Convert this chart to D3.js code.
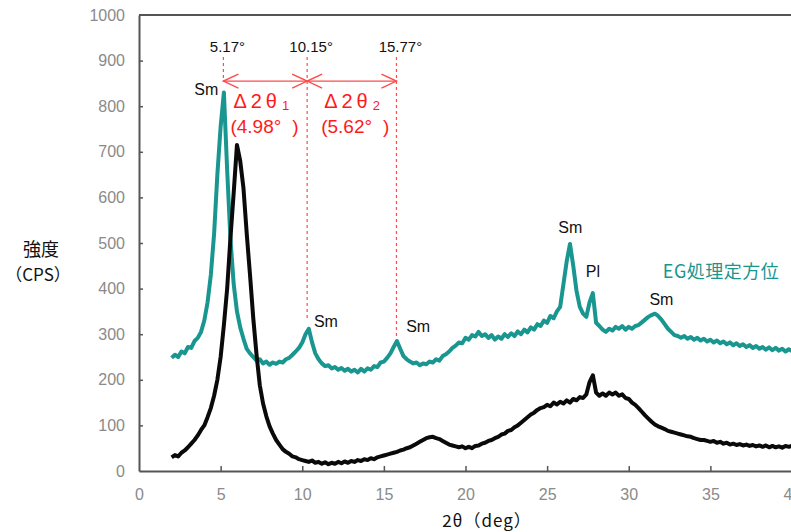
<!DOCTYPE html>
<html><head><meta charset="utf-8">
<script src="https://cdn.jsdelivr.net/npm/d3@7"></script>
<style>
html,body{margin:0;padding:0;background:#fff;overflow:hidden}
svg{display:block}
</style></head>
<body>
<svg id="chart" width="791" height="532"></svg>
<script>
// ---- data ----
const twoTheta = [
 2,2.2,2.4,2.6,2.8, 3,3.2,3.4,3.6,3.8, 4,4.2,4.4,4.6,4.8, 5,5.2,5.4,5.6,5.8,
 6,6.2,6.4,6.6,6.8, 7,7.2,7.4,7.6,7.8, 8,8.2,8.4,8.6,8.8, 9,9.2,9.4,9.6,9.8,
 10,10.2,10.4,10.6,10.8, 11,11.2,11.4,11.6,11.8, 12,12.2,12.4,12.6,12.8, 13,13.2,13.4,13.6,13.8,
 14,14.2,14.4,14.6,14.8, 15,15.2,15.4,15.6,15.8, 16,16.2,16.4,16.6,16.8, 17,17.2,17.4,17.6,17.8,
 18,18.2,18.4,18.6,18.8, 19,19.2,19.4,19.6,19.8, 20,20.2,20.4,20.6,20.8, 21,21.2,21.4,21.6,21.8,
 22,22.2,22.4,22.6,22.8, 23,23.2,23.4,23.6,23.8, 24,24.2,24.4,24.6,24.8, 25,25.2,25.4,25.6,25.8,
 26,26.2,26.4,26.6,26.8, 27,27.2,27.4,27.6,27.8, 28,28.2,28.4,28.6,28.8, 29,29.2,29.4,29.6,29.8,
 30,30.2,30.4,30.6,30.8, 31,31.2,31.4,31.6,31.8, 32,32.2,32.4,32.6,32.8, 33,33.2,33.4,33.6,33.8,
 34,34.2,34.4,34.6,34.8, 35,35.2,35.4,35.6,35.8, 36,36.2,36.4,36.6,36.8, 37,37.2,37.4,37.6,37.8,
 38,38.2,38.4,38.6,38.8, 39,39.2,39.4,39.6,39.8, 40
];
// EG処理定方位 (teal)
const egValues = [
 248,255,250,262,258, 272,270,285,292,305, 330,370,430,520,650, 755,830,660,510,410,
 350,315,290,268,258, 250,242,245,236,240, 233,238,235,240,238, 245,248,255,262,270,
 282,300,312,282,258, 245,236,230,232,225, 228,222,226,220,224, 218,222,216,224,218,
 225,222,230,228,238, 240,248,258,272,285, 268,252,245,240,236, 238,232,236,234,240,
 238,245,242,252,256, 262,270,275,282,280, 292,288,298,295,305, 296,300,292,298,288,
 295,290,300,294,302, 296,306,300,310,304, 315,310,322,318,330, 325,340,335,350,360,
 410,460,498,450,395, 360,345,338,370,390, 325,318,310,305,312, 308,316,312,318,310,
 316,312,318,320,326, 332,338,342,345,340, 332,322,312,305,298, 296,292,296,290,294,
 288,292,286,290,284, 288,282,286,280,284, 278,282,276,280,274, 278,272,276,270,274,
 268,272,266,271,265, 270,264,268,262,267, 263
];
// untreated (black)
const rawValues = [
 30,35,32,40,45, 52,60,68,78,90, 100,118,138,165,200, 250,320,400,510,610,
 715,680,620,520,430, 335,255,188,148,120, 98,82,68,58,48, 42,38,32,30,26,
 24,22,20,23,18, 20,16,19,15,18, 16,20,17,21,18, 22,20,24,22,26,
 24,28,26,30,32, 34,36,38,40,42, 45,47,50,52,56, 60,64,68,72,74,
 75,72,70,66,62, 58,56,54,52,54, 50,53,50,55,56, 60,62,66,68,72,
 75,80,82,88,90, 96,100,106,112,118, 124,128,134,138,140, 145,142,150,146,152,
 148,155,150,158,155, 162,160,168,195,210, 172,165,170,165,172, 168,172,165,168,160,
 158,150,145,138,130, 122,115,108,102,98, 95,92,88,86,84, 82,80,78,76,75,
 72,70,68,68,66, 64,66,62,64,60, 62,58,60,57,59, 56,58,55,57,54,
 56,53,56,52,55, 52,54,51,55,53, 55
];
const xTicks = [0,5,10,15,20,25,30,35,40];
const yTicks = [0,100,200,300,400,500,600,700,800,900,1000];
const peakNames = ["Sm","Sm","Sm","Sm","Pl","Sm"];
const peakAngles = [4.12, 11.45, 17.1, 26.42, 27.8, 32.0];
const peakHeights = [824, 316, 305, 521, 425, 364];
const markAngles = [5.17, 10.3, 15.77];
const markLabels = ["5.17°","10.15°","15.77°"];
const markBottoms = [853, 331, 292];
const deltaNames = ["1","2"];
const deltaValues = ["4.98","5.62"];
const seriesName = "EG処理定方位";

// ---- layout ----
const svg = d3.select("#chart");
const x = d3.scaleLinear().domain([0,40]).range([139,792]);
const y = d3.scaleLinear().domain([0,1000]).range([471,15]);
const axisColor = "#555";
const tickColor = "#8a8a8a";
const red = "#ff1a1a";
const teal = "#19968f";
const latin = "'Liberation Sans', Arial, sans-serif";
const cjk = "'Noto Sans CJK JP', sans-serif";

// frame
svg.append("line").attr("x1",x(0)).attr("x2",x(40)).attr("y1",y(1000)).attr("y2",y(1000))
  .attr("stroke",axisColor).attr("stroke-width",2);

const yAxis = d3.axisLeft(y).tickValues(yTicks).tickSize(0).tickPadding(14).tickFormat(d3.format("d"));
const gy = svg.append("g").attr("transform",`translate(${x(0)},0)`).call(yAxis);
gy.select(".domain").attr("stroke",axisColor).attr("stroke-width",2);
gy.selectAll("text").attr("fill",tickColor).attr("font-family",latin).attr("font-size",16);
gy.selectAll(".tick").append("line").attr("x1",0).attr("x2",4).attr("stroke",axisColor).attr("stroke-width",1.5)
  .filter(d=>d===0||d===1000).remove();

const xAxis = d3.axisBottom(x).tickValues(xTicks).tickSize(0).tickPadding(18).tickFormat(d3.format("d"));
const gx = svg.append("g").attr("transform",`translate(0,${y(0)})`).call(xAxis);
gx.select(".domain").attr("stroke",axisColor).attr("stroke-width",2);
gx.selectAll("text").attr("fill",tickColor).attr("font-family",latin).attr("font-size",16);
gx.selectAll(".tick").append("line").attr("y1",0).attr("y2",-5).attr("stroke",axisColor).attr("stroke-width",1.5)
  .filter(d=>d===0).remove();

// series
const line = d3.line().x((d,i)=>x(twoTheta[i])).y(d=>y(d)).curve(d3.curveLinear);
svg.append("path").datum(egValues).attr("d",line).attr("fill","none")
  .attr("stroke",teal).attr("stroke-width",4).attr("stroke-linejoin","round");
svg.append("path").datum(rawValues).attr("d",line).attr("fill","none")
  .attr("stroke","#0a0a0a").attr("stroke-width",4).attr("stroke-linejoin","round");

// dashed marker lines
markAngles.forEach((a,i)=>{
  svg.append("line").attr("x1",x(a)).attr("x2",x(a)).attr("y1",y(908)).attr("y2",y(markBottoms[i]))
    .attr("stroke","#ff4d4d").attr("stroke-width",1.2).attr("stroke-dasharray","3,3");
  svg.append("text").attr("x",x(a)+4).attr("y",52).attr("text-anchor","middle")
    .attr("font-family",latin).attr("font-size",15).attr("fill","#111").text(markLabels[i]);
});

// double arrows
const ay = y(855);
function arrow(x1,x2){
  const g = svg.append("g").attr("stroke","#ff4a4a").attr("stroke-width",1.4).attr("fill","none");
  g.append("line").attr("x1",x1).attr("x2",x2).attr("y1",ay).attr("y2",ay);
  g.append("path").attr("d",`M${x1+15},${ay-7}L${x1},${ay}L${x1+15},${ay+7}`);
  g.append("path").attr("d",`M${x2-15},${ay-7}L${x2},${ay}L${x2-15},${ay+7}`);
}
arrow(x(markAngles[0]),x(markAngles[1]));
arrow(x(markAngles[1]),x(markAngles[2]));

// delta labels
deltaNames.forEach((n,i)=>{
  const x0 = (i===0? x(markAngles[0])+8 : x(markAngles[1])+15);
  const t = svg.append("text").attr("x",x0+2).attr("y",108).attr("fill",red)
    .attr("font-family",latin).attr("font-size",20).attr("letter-spacing",4);
  t.append("tspan").text("Δ2θ");
  t.append("tspan").attr("dx",1).attr("dy",2).attr("font-size",13).attr("letter-spacing",0).text(n);
  const t2 = svg.append("text").attr("x",x0-1).attr("y",133).attr("fill",red)
    .attr("font-family",latin).attr("font-size",19);
  t2.append("tspan").text("("+deltaValues[i]+"°");
  t2.append("tspan").attr("dx",11).text(")");
});

// peak labels
peakNames.forEach((n,i)=>{
  svg.append("text").attr("x",x(peakAngles[i])).attr("y",y(peakHeights[i]))
    .attr("text-anchor","middle").attr("font-family",latin).attr("font-size",16)
    .attr("fill","#111").text(n);
});

// series label
svg.append("text").attr("x",x(32.09)).attr("y",y(424)).attr("font-family",cjk)
  .attr("font-size",18).attr("letter-spacing",0.5).attr("fill",teal).text(seriesName);

// axis titles
svg.append("text").attr("x",41).attr("y",256).attr("text-anchor","middle")
  .attr("font-family",cjk).attr("font-size",18).attr("fill","#111").text("強度");
svg.append("text").attr("x",38).attr("y",281).attr("text-anchor","middle")
  .attr("font-family",cjk).attr("font-size",17).attr("fill","#111").text("（CPS）");
svg.append("text").attr("x",487).attr("y",527).attr("text-anchor","middle")
  .attr("font-family",cjk).attr("font-size",17).attr("letter-spacing",1).attr("fill","#111").text("2θ（deg）");
</script>
</body></html>
